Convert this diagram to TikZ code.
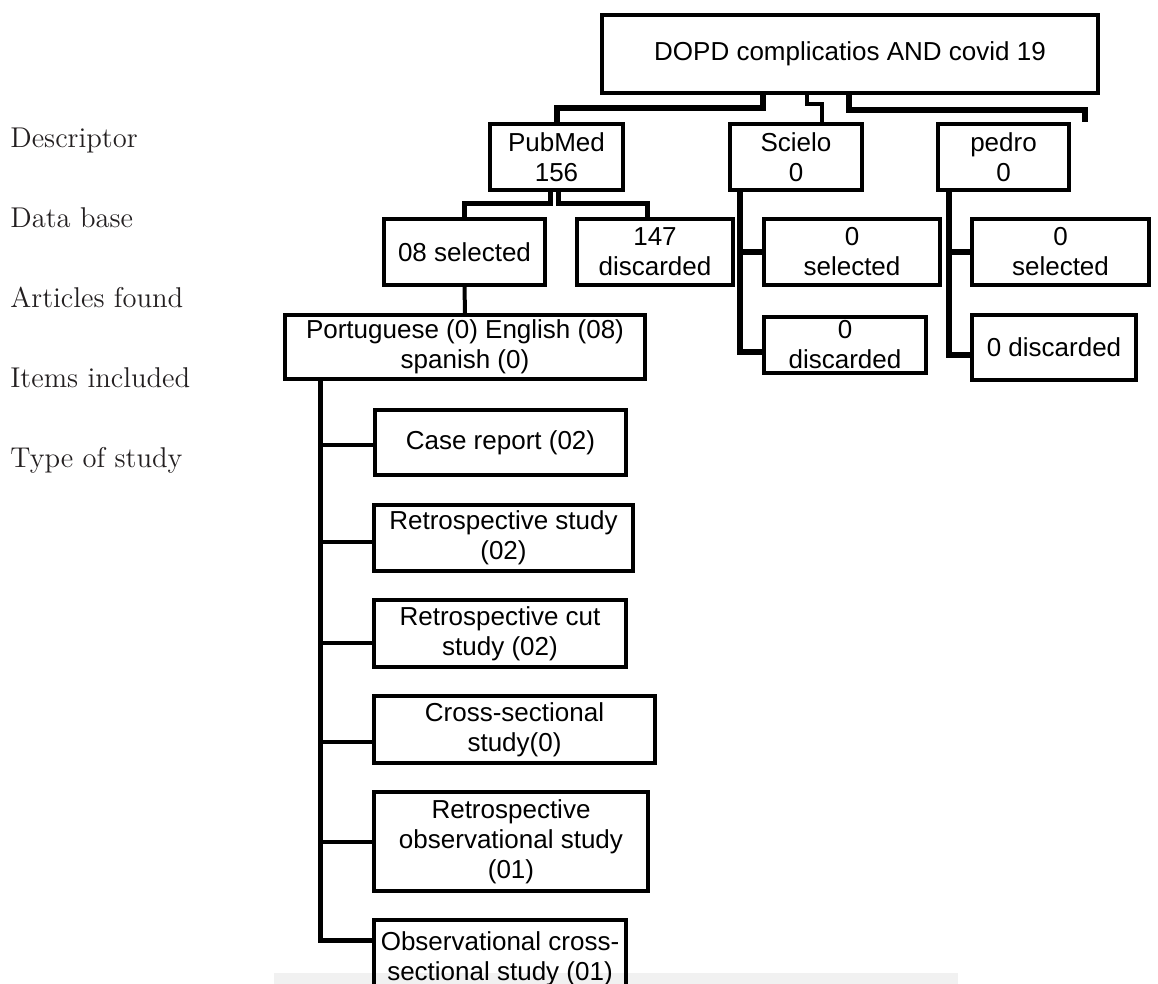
\documentclass[tikz,border=0pt]{standalone}
\usepackage{fontspec}
\newfontfamily\boxfont{Liberation Sans}
\usetikzlibrary{positioning}
\definecolor{ink}{HTML}{231F20}
\definecolor{band}{HTML}{F1F1F1}
\tikzset{
  box/.style={draw,line width=2pt,inner sep=0pt,align=center,
    font=\boxfont\fontsize{13}{15}\selectfont},
  heavy/.style={draw,line width=3pt},
  link/.style={draw,line width=2.5pt},
  branch/.style={draw,line width=2pt},
  rowlabel/.style={anchor=base west,inner sep=0pt,text=ink,
    font=\fontsize{14.3}{17}\selectfont}}

\begin{document}
\begin{tikzpicture}[x=0.5pt,y=-0.5pt]
\useasboundingbox (0,0) rectangle (1158,984);
\clip (0,0) rectangle (1158,984);
\fill[band] (274,973) rectangle (958,984);
% row labels
\node[rowlabel] (descriptor) at (10,148) {Descriptor};
\node[rowlabel] (database) at (10,228) {Data base};
\node[rowlabel] (found) at (10,308) {Articles found};
\node[rowlabel] (included) at (10,388) {Items included};
\node[rowlabel] (studytype) at (10,468) {Type of study};
% search and data bases
\node[box,minimum width=248pt,minimum height=39pt] (top) at (850,54) {DOPD complicatios AND covid 19};
\node[box,minimum width=66.5pt,minimum height=33pt] (pubmed) at (556.5,157) {PubMed\\156};
\node[box,minimum width=66pt,minimum height=33pt] (scielo) at (796,157) {Scielo\\0};
\node[box,minimum width=65.5pt,minimum height=33pt] (pedro) at (1003.5,157) {pedro\\0};
% articles found
\node[box,minimum width=80.5pt,minimum height=33pt] (sel) at (464.5,252) {08 selected};
\node[box,minimum width=78pt,minimum height=33pt] (disc) at (655,252) {147\\discarded};
\node[box,minimum width=88pt,minimum height=33pt] (ssel) at (852,252) {0\\selected};
\node[box,minimum width=81pt,minimum height=28pt] (sdisc) at (845,345) {0\\discarded};
\node[box,minimum width=88.5pt,minimum height=33pt] (psel) at (1060.5,252) {0\\selected};
\node[box,minimum width=82pt,minimum height=32.5pt] (pdisc) at (1054,347.5) {0 discarded};
\node[box,minimum width=180pt,minimum height=32pt] (lang) at (465,347) {Portuguese (0) English (08)\\spanish (0)};
% type of study
\node[box,minimum width=125.5pt,minimum height=32.5pt] (case) at (500.5,442.5) {Case report (02)};
\node[box,minimum width=129.5pt,minimum height=33pt] (retro) at (503.5,538) {Retrospective study\\(02)};
\node[box,minimum width=126pt,minimum height=33.5pt] (cut) at (500,633.5) {Retrospective cut\\study (02)};
\node[box,minimum width=140.5pt,minimum height=33.5pt] (cross) at (514.5,729.5) {Cross-sectional\\study(0)};
\node[box,minimum width=137pt,minimum height=49.5pt] (obs) at (511,841.5) {Retrospective\\observational study\\(01)};
\node[box,minimum width=126pt,minimum height=39pt] (ocs) at (500,959) {Observational cross-\\sectional study (01)};
% connectors
\draw[heavy] ([xshift=-43.5pt]top.south) -- ++(0,13) -| (pubmed.north);
\draw[branch,line width=2.25pt] ([xshift=-21.5pt]top.south) -- ++(0,9) -| ([xshift=13pt]scielo.north);
\draw[heavy] ([xshift=-0.5pt]top.south) -- ++(0,15) -| ([xshift=6.75pt]pedro.north east);
\draw[link] ([xshift=-3.25pt]pubmed.south) -- ++(0,12) -| (sel.north);
\draw[link] ([xshift=0.75pt]pubmed.south) -- ++(0,12) -| ([xshift=-4pt]disc.north);
\draw[branch] (sel.south) -- (lang.north);
\draw[heavy] ([xshift=6pt]scielo.south west) |- (ssel.west);
\draw[heavy] ([xshift=6pt]scielo.south west) |- ([yshift=-3.5pt]sdisc.west);
\draw[heavy] ([xshift=6.5pt]pedro.south west) |- (psel.west);
\draw[heavy] ([xshift=6.5pt]pedro.south west) |- ([yshift=-3.75pt]pdisc.west);
\coordinate (trunktop) at ([xshift=-72.5pt]lang.south);
\draw[link] ([yshift=9.5pt]ocs.west) -| (trunktop);
\draw[branch] ([yshift=-1.25pt]case.west) -| (trunktop);
\draw[branch] ([yshift=-2pt]retro.west) -| (trunktop);
\draw[branch] ([yshift=-4.75pt]cut.west) -| (trunktop);
\draw[branch] ([yshift=-6.25pt]cross.west) -| (trunktop);
\draw[branch] (obs.west) -| (trunktop);
\end{tikzpicture}
\end{document}
